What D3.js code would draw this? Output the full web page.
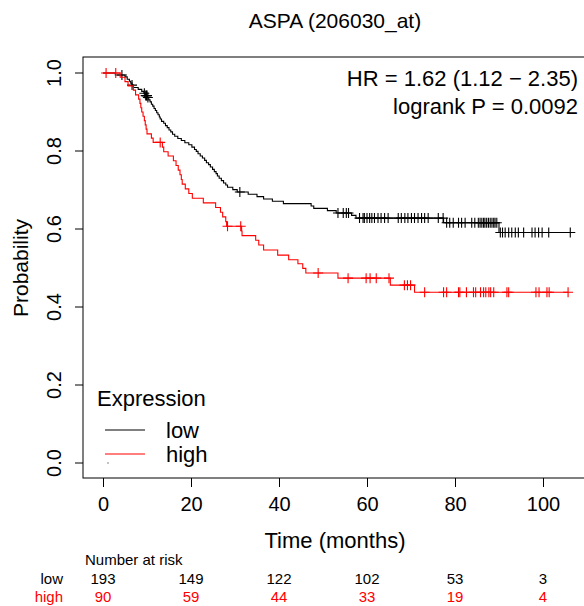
<!DOCTYPE html>
<html>
<head>
<meta charset="utf-8">
<script src="https://cdn.jsdelivr.net/npm/d3@7"></script>
<style>
  body { margin: 0; background: #fff; }
  svg { display: block; font-family: "Liberation Sans", Arial, sans-serif; }
</style>
</head>
<body>
<div id="chart"></div>
<script>
// Kaplan-Meier steps: [time (months), survival after event]
const lowSteps = [
  [2.8, 0.995], [5.0, 0.990], [5.5, 0.984], [6.0, 0.979], [6.3, 0.974], [6.6, 0.969],
  [6.9, 0.963], [8.0, 0.958], [8.8, 0.953], [9.3, 0.948], [9.7, 0.942], [10.1, 0.937],
  [10.4, 0.931], [10.7, 0.926], [11.0, 0.920], [11.3, 0.915], [11.6, 0.909], [11.9, 0.904],
  [12.2, 0.898], [12.5, 0.893], [12.8, 0.887], [13.0, 0.882], [13.3, 0.876], [13.8, 0.871],
  [14.2, 0.865], [14.6, 0.860], [15.0, 0.854], [15.4, 0.849], [15.8, 0.843], [16.3, 0.838],
  [17.0, 0.832], [17.8, 0.827], [18.6, 0.821], [19.5, 0.816], [20.2, 0.810], [20.8, 0.804],
  [21.2, 0.799], [21.6, 0.793], [22.1, 0.787], [22.6, 0.782], [23.1, 0.776], [23.5, 0.770],
  [24.0, 0.765], [24.4, 0.759], [24.9, 0.753], [25.3, 0.747], [25.7, 0.742], [26.0, 0.736],
  [26.4, 0.730], [26.9, 0.724], [27.4, 0.718], [27.9, 0.713], [28.3, 0.707], [29.5, 0.701],
  [30.5, 0.695], [33.0, 0.689], [35.0, 0.683], [36.5, 0.677], [38.5, 0.671], [41.0, 0.665],
  [47.3, 0.659], [47.9, 0.653], [51.0, 0.647], [53.0, 0.641], [56.5, 0.635], [57.5, 0.628],
  [77.4, 0.616], [90.0, 0.591]
];
const lowCensor = [
  4.3, 6.6, 9.4, 9.7, 9.9, 10.0, 10.2, 31.1, 53.4, 54.6, 55.3, 55.8, 58.3, 59.1, 59.4,
  60.0, 60.6, 61.1, 61.7, 62.5, 63.2, 64.0, 64.8, 67.1, 67.8, 68.6, 69.3, 70.1, 70.8,
  71.6, 72.4, 73.1, 73.9, 76.2, 77.3, 78.1, 78.8, 79.6, 80.8, 81.5, 82.3, 83.8, 84.5,
  85.3, 85.7, 86.1, 86.5, 86.8, 87.2, 87.6, 88.0, 88.4, 88.8, 89.1, 89.5, 90.3, 90.8,
  91.4, 92.2, 92.9, 93.7, 94.4, 95.6, 97.5, 98.2, 99.0, 99.8, 101.3, 106.2
];
const lowEnd = 106.2;

const highSteps = [
  [3.9, 0.989], [5.0, 0.978], [5.7, 0.967], [6.9, 0.956], [7.4, 0.944], [8.1, 0.933],
  [8.4, 0.922], [8.6, 0.911], [8.8, 0.900], [9.1, 0.889], [9.4, 0.878], [9.6, 0.867],
  [9.8, 0.856], [10.0, 0.844], [11.0, 0.833], [11.4, 0.822], [13.5, 0.810], [13.8, 0.798],
  [14.8, 0.787], [16.0, 0.775], [16.6, 0.763], [17.1, 0.751], [17.5, 0.739], [17.8, 0.727],
  [18.0, 0.715], [18.7, 0.703], [19.5, 0.691], [20.3, 0.679], [22.8, 0.667], [25.6, 0.655],
  [26.7, 0.643], [27.2, 0.631], [27.9, 0.619], [28.1, 0.607], [31.5, 0.595], [31.6, 0.583],
  [34.7, 0.571], [35.4, 0.559], [36.5, 0.546], [39.7, 0.533], [42.2, 0.521], [44.3, 0.511],
  [45.4, 0.499], [46.1, 0.487], [53.4, 0.474], [65.3, 0.456], [70.8, 0.438]
];
const highCensor = [
  0.7, 2.9, 13.0, 28.3, 31.3, 48.9, 55.7, 59.8, 60.7, 62.1, 65.0, 68.5, 69.2, 69.9,
  73.1, 77.4, 78.1, 80.8, 81.1, 82.6, 84.2, 84.7, 85.8, 86.5, 87.0, 87.7, 88.1, 88.8,
  91.8, 92.2, 98.4, 99.1, 100.9, 101.4, 105.7
];
const highEnd = 105.7;

const riskTimes = [0, 20, 40, 60, 80, 100];
const riskLow = [193, 149, 122, 102, 53, 3];
const riskHigh = [90, 59, 44, 33, 19, 4];
const yTicks = [0, 0.2, 0.4, 0.6, 0.8, 1.0];

const width = 584, height = 606;
const box = { left: 83, top: 57, right: 586, bottom: 478 };

const svg = d3.select("#chart").append("svg")
  .attr("width", width).attr("height", height);

const x = d3.scaleLinear().domain([0, 100]).range([103, 543]);
const y = d3.scaleLinear().domain([0, 1]).range([463, 73]);

// plot frame
svg.append("rect")
  .attr("x", box.left).attr("y", box.top)
  .attr("width", box.right - box.left).attr("height", box.bottom - box.top)
  .attr("fill", "none").attr("stroke", "#000").attr("stroke-width", 1);

// x axis (ticks hang below the frame)
const xAxis = svg.append("g")
  .attr("transform", `translate(0,${box.bottom})`)
  .call(d3.axisBottom(x).tickValues(riskTimes).tickSize(9).tickPadding(10).tickSizeOuter(0));
xAxis.select(".domain").remove();
xAxis.selectAll("text").style("font-size", "20px").attr("fill", "#000")
  .attr("font-family", "Liberation Sans, Arial, sans-serif");

// y axis
const yAxis = svg.append("g")
  .attr("transform", `translate(${box.left},0)`)
  .call(d3.axisLeft(y).tickValues(yTicks).tickSize(8).tickFormat(d3.format(".1f")));
yAxis.select(".domain").remove();
yAxis.selectAll("text")
  .attr("x", null).attr("dy", null)
  .attr("text-anchor", "middle")
  .attr("transform", d => `translate(-22,${y(d)}) rotate(-90)`)
  .attr("y", 0)
  .style("font-size", "20px").attr("fill", "#000")
  .attr("font-family", "Liberation Sans, Arial, sans-serif");
yAxis.selectAll(".tick").attr("transform", null);
yAxis.selectAll(".tick line").attr("y1", d => y(d)).attr("y2", d => y(d));

// curves
function stepPoints(steps, end) {
  const pts = [[0, 1]].concat(steps);
  pts.push([end, steps[steps.length - 1][1]]);
  return pts;
}
function survAt(steps, t) {
  let s = 1;
  for (const [tt, v] of steps) { if (tt <= t) s = v; else break; }
  return s;
}
const line = d3.line().curve(d3.curveStepAfter).x(d => x(d[0])).y(d => y(d[1]));

const groups = [
  { steps: lowSteps, censor: lowCensor, end: lowEnd, color: "#000" },
  { steps: highSteps, censor: highCensor, end: highEnd, color: "#ff0000" }
];

groups.forEach(g => {
  svg.append("path")
    .attr("d", line(stepPoints(g.steps, g.end)))
    .attr("fill", "none").attr("stroke", g.color).attr("stroke-width", 1.1);
  svg.append("g").selectAll("path").data(g.censor).join("path")
    .attr("d", t => {
      const cx = x(t), cy = y(survAt(g.steps, t));
      return `M${cx - 5},${cy}h10M${cx},${cy - 5}v10`;
    })
    .attr("stroke", g.color).attr("stroke-width", 1.1).attr("fill", "none");
});

// title and stats
svg.append("text").attr("x", 335).attr("y", 28).attr("text-anchor", "middle")
  .style("font-size", "21px").text("ASPA (206030_at)");
svg.append("text").attr("x", 578).attr("y", 86).attr("text-anchor", "end")
  .style("font-size", "22px").text("HR = 1.62 (1.12 \u2212 2.35)");
svg.append("text").attr("x", 578).attr("y", 114).attr("text-anchor", "end")
  .style("font-size", "22px").text("logrank P = 0.0092");

// axis titles
svg.append("text").attr("x", 335).attr("y", 548).attr("text-anchor", "middle")
  .style("font-size", "22px").text("Time (months)");
svg.append("text").attr("transform", `translate(28,268) rotate(-90)`)
  .attr("text-anchor", "middle").style("font-size", "21px").text("Probability");

// legend
svg.append("text").attr("x", 97).attr("y", 406).style("font-size", "22px").text("Expression");
const legendItems = [
  { label: "low", color: "#000", y: 430 },
  { label: "high", color: "#ff0000", y: 454 }
];
legendItems.forEach(d => {
  svg.append("line").attr("x1", 105).attr("x2", 145).attr("y1", d.y).attr("y2", d.y)
    .attr("stroke", d.color).attr("stroke-width", 1.1);
  svg.append("text").attr("x", 166).attr("y", d.y + 8).style("font-size", "22px").text(d.label);
});
svg.append("circle").attr("cx", 108).attr("cy", 463).attr("r", 0.8).attr("fill", "#777");

// number at risk table
svg.append("text").attr("x", 85).attr("y", 565).style("font-size", "15px").text("Number at risk");
const rows = [
  { name: "low", values: riskLow, color: "#000", y: 584 },
  { name: "high", values: riskHigh, color: "#ff0000", y: 602 }
];
rows.forEach(r => {
  svg.append("text").attr("x", 63).attr("y", r.y).attr("text-anchor", "end")
    .attr("fill", r.color).style("font-size", "15px").text(r.name);
  svg.append("g").selectAll("text").data(r.values).join("text")
    .attr("x", (d, i) => x(riskTimes[i])).attr("y", r.y)
    .attr("text-anchor", "middle").attr("fill", r.color)
    .style("font-size", "15px").text(d => d);
});
</script>
</body>
</html>
